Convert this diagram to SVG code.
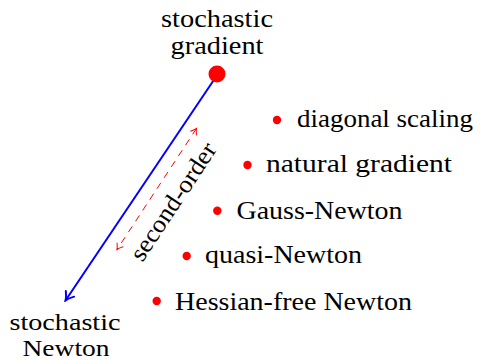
<svg xmlns="http://www.w3.org/2000/svg" width="482" height="361" viewBox="0 0 482 361">
<defs>
<style>
text{font-family:"Liberation Serif","DejaVu Serif",serif;font-size:25px;fill:#000}
.sm{font-size:23px}
.dot{fill:#ff0000}
.mid{text-anchor:middle}
</style>
<marker id="ab" viewBox="-10 -6 12 12" refX="0" refY="0" markerWidth="12" markerHeight="12" markerUnits="userSpaceOnUse" orient="auto-start-reverse">
<path d="M-8,-5 Q-3,-1 0,0 Q-3,1 -8,5" fill="none" stroke="#0000ff" stroke-width="2" stroke-linecap="round"/>
</marker>
<marker id="ar" viewBox="-8 -5 10 10" refX="0" refY="0" markerWidth="10" markerHeight="10" markerUnits="userSpaceOnUse" orient="auto-start-reverse">
<path d="M-5.5,-3.5 Q-2,-0.8 0,0 Q-2,0.8 -5.5,3.5" fill="none" stroke="#ff0000" stroke-width="1" stroke-linecap="round"/>
</marker>
</defs>
<g id="connectors">
<line x1="216.5" y1="76" x2="65.5" y2="300.5" stroke="#0000ff" stroke-width="2" marker-end="url(#ab)"/>
<line x1="196.5" y1="128.5" x2="117" y2="249.5" stroke="#ff0000" stroke-width="1" stroke-dasharray="7,6" marker-start="url(#ar)" marker-end="url(#ar)"/>
<text transform="translate(180,206) rotate(-56.5)" class="mid" textLength="136" lengthAdjust="spacingAndGlyphs">second-order</text>
</g>
<g id="stochastic-gradient">
<circle class="dot" cx="217" cy="74" r="8.5"/>
<text x="217" y="27" class="mid" textLength="112" lengthAdjust="spacingAndGlyphs">stochastic</text>
<text x="217" y="54" class="mid" textLength="93" lengthAdjust="spacingAndGlyphs">gradient</text>
</g>
<g id="stochastic-newton">
<text x="65" y="330" class="mid sm" textLength="111" lengthAdjust="spacingAndGlyphs">stochastic</text>
<text x="66" y="356" class="mid sm" textLength="87" lengthAdjust="spacingAndGlyphs">Newton</text>
</g>
<g id="diagonal-scaling">
<circle class="dot" cx="277" cy="120" r="4.2"/>
<text x="297" y="127" textLength="176" lengthAdjust="spacingAndGlyphs">diagonal scaling</text>
</g>
<g id="natural-gradient">
<circle class="dot" cx="247.5" cy="165" r="4.2"/>
<text x="266" y="172" textLength="186" lengthAdjust="spacingAndGlyphs">natural gradient</text>
</g>
<g id="gauss-newton">
<circle class="dot" cx="217.3" cy="210.7" r="4.2"/>
<text x="236.5" y="219" textLength="166" lengthAdjust="spacingAndGlyphs">Gauss-Newton</text>
</g>
<g id="quasi-newton">
<circle class="dot" cx="186.7" cy="256" r="4.2"/>
<text x="205" y="263" textLength="157" lengthAdjust="spacingAndGlyphs">quasi-Newton</text>
</g>
<g id="hessian-free-newton">
<circle class="dot" cx="156.7" cy="301" r="4.2"/>
<text x="175" y="310" textLength="237" lengthAdjust="spacingAndGlyphs">Hessian-free Newton</text>
</g>
</svg>
